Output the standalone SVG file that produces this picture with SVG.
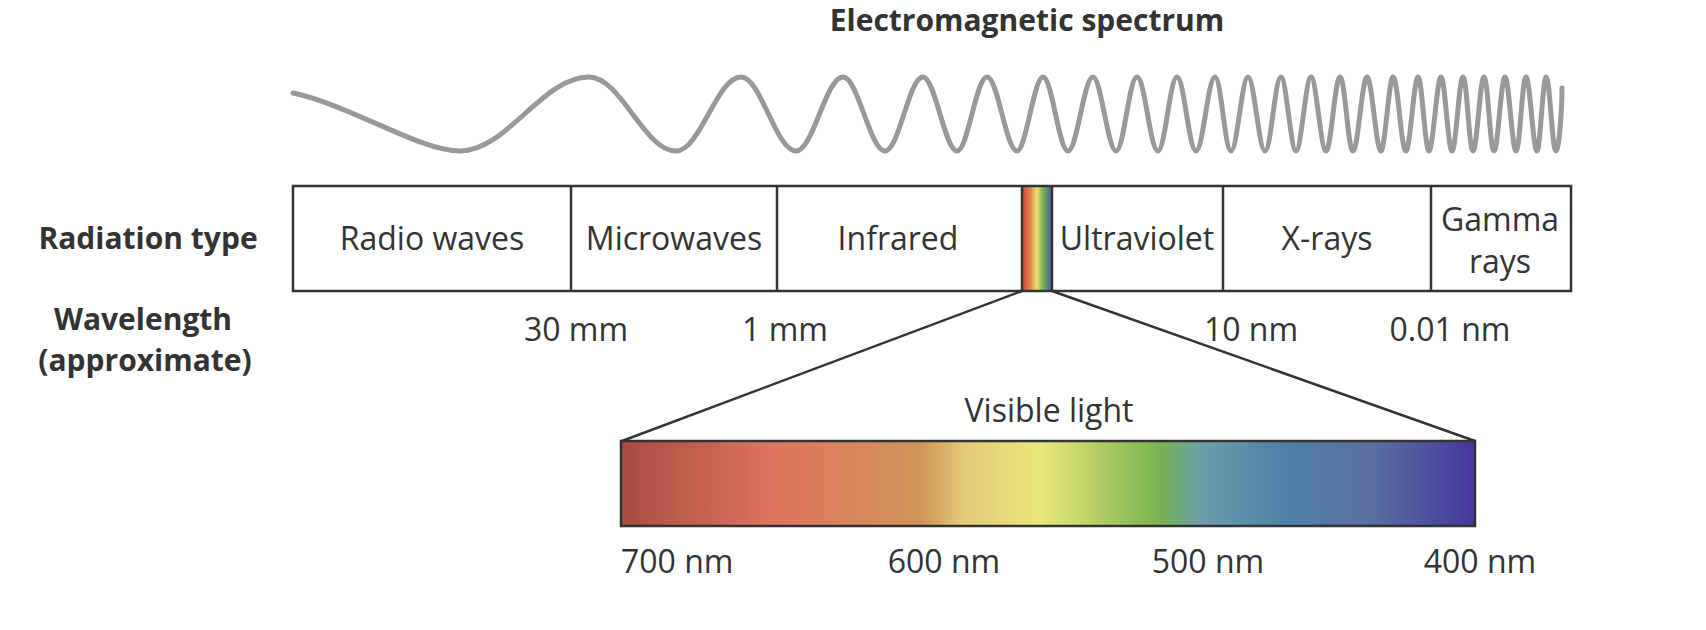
<svg xmlns="http://www.w3.org/2000/svg" width="1706" height="630" viewBox="0 0 1706 630">
<defs>
<style>
text{font-family:"Open Sans","Liberation Sans",sans-serif;fill:#333;font-size:32px}
.b{font-weight:bold;font-size:30px}
.m{text-anchor:middle}
.ln{stroke:#333;stroke-width:2.5;fill:none}
</style>
<linearGradient id="vis" x1="0" x2="1" y1="0" y2="0">
<stop offset="0" stop-color="#a84c40"/>
<stop offset="0.18" stop-color="#e07460"/>
<stop offset="0.35" stop-color="#cf9458"/>
<stop offset="0.40" stop-color="#e3c878"/>
<stop offset="0.49" stop-color="#ebe878"/>
<stop offset="0.63" stop-color="#78b450"/>
<stop offset="0.68" stop-color="#6a9eaa"/>
<stop offset="0.78" stop-color="#4e80a8"/>
<stop offset="0.88" stop-color="#5a70a0"/>
<stop offset="1" stop-color="#43369c"/>
</linearGradient>
<linearGradient id="mini" x1="0" x2="1" y1="0" y2="0">
<stop offset="0" stop-color="#c8473a"/>
<stop offset="0.3" stop-color="#e88a50"/>
<stop offset="0.5" stop-color="#e8e070"/>
<stop offset="0.7" stop-color="#78b450"/>
<stop offset="1" stop-color="#4a5aa8"/>
</linearGradient>
</defs>
<rect width="1706" height="630" fill="#fff"/>
<text class="b m" x="1027" y="31">Electromagnetic spectrum</text>
<g id="wave">
<path fill="none" stroke="#999" stroke-width="5" stroke-linecap="round" d="M293,93 C350,105 420,151 460,151 C507,151 542,77 589,77 C621,77 644,151 676,151 C700,151 717,77 741,77 C761,77 776,151 796,151 C813,151 826,77 843,77 C858,77 870,151 885,151 C899,151 909,77 923,77 C935,77 945,151 957,151 C968,151 976,77 987,77 C998,77 1006,151 1017,151 C1026,151 1034,77 1043,77 C1052,77 1059,151 1068,151 C1077,151 1084,77 1093,77 C1101,77 1108,151 1116,151 C1124,151 1129,77 1137,77 C1145,77 1150,151 1158,151 C1165,151 1170,77 1177,77 C1184,77 1189,151 1196,151 C1203,151 1208,77 1215,77 C1221,77 1225,151 1231,151 C1237,151 1242,77 1248,77 C1254,77 1259,151 1265,151 C1271,151 1275,77 1281,77 C1286,77 1291,151 1296,151 C1301,151 1306,77 1311,77 C1316,77 1321,151 1326,151 C1331,151 1335,77 1340,77 C1345,77 1348,151 1353,151 C1358,151 1362,77 1367,77 C1372,77 1376,151 1381,151 C1385,151 1389,77 1393,77 C1398,77 1401,151 1406,151 C1410,151 1414,77 1418,77 C1422,77 1425,151 1429,151 C1433,151 1437,77 1441,77 C1445,77 1448,151 1452,151 C1456,151 1459,77 1463,77 C1467,77 1469,151 1473,151 C1477,151 1480,77 1484,77 C1488,77 1490,151 1494,151 C1498,151 1501,77 1505,77 C1509,77 1512,151 1516,151 C1520,151 1522,77 1526,77 C1530,77 1533,151 1537,151 C1540,151 1543,77 1546,77 C1550,77 1552,151 1556,151 C1559,151 1562,110 1562,88"/>
</g>
<text class="b m" x="148" y="249">Radiation type</text>
<text class="b m" x="143" y="330">Wavelength</text>
<text class="b m" x="145" y="371">(approximate)</text>
<g id="bands">
<rect x="1022" y="186" width="30" height="105" fill="url(#mini)"/>
<rect class="ln" x="293" y="186" width="1278" height="105"/>
<line class="ln" x1="571" y1="186" x2="571" y2="291"/>
<line class="ln" x1="777" y1="186" x2="777" y2="291"/>
<line class="ln" x1="1022" y1="186" x2="1022" y2="291"/>
<line class="ln" x1="1052" y1="186" x2="1052" y2="291"/>
<line class="ln" x1="1223" y1="186" x2="1223" y2="291"/>
<line class="ln" x1="1431" y1="186" x2="1431" y2="291"/>
</g>
<g id="radio"><text class="m" x="432" y="250">Radio waves</text></g>
<g id="micro"><text class="m" x="674" y="250">Microwaves</text></g>
<g id="ir"><text class="m" x="898" y="250">Infrared</text></g>
<g id="uv"><text class="m" x="1137" y="250">Ultraviolet</text></g>
<g id="xray"><text class="m" x="1327" y="250">X-rays</text></g>
<g id="gamma"><text class="m" x="1500" y="231">Gamma</text><text class="m" x="1500" y="273">rays</text></g>
<text class="m" x="576" y="341">30 mm</text>
<text class="m" x="785" y="341">1 mm</text>
<text class="m" x="1251" y="341">10 nm</text>
<text class="m" x="1450" y="341">0.01 nm</text>
<g id="connectors">
<line class="ln" x1="1022" y1="291" x2="622" y2="441"/>
<line class="ln" x1="1052" y1="291" x2="1475" y2="441"/>
</g>
<text class="m" x="1049" y="422">Visible light</text>
<g id="visible">
<rect x="621" y="441" width="854" height="85" fill="url(#vis)" stroke="#333" stroke-width="2.5"/>
</g>
<text x="621" y="573">700 nm</text>
<text class="m" x="944" y="573">600 nm</text>
<text class="m" x="1208" y="573">500 nm</text>
<text class="m" x="1480" y="573">400 nm</text>
</svg>
